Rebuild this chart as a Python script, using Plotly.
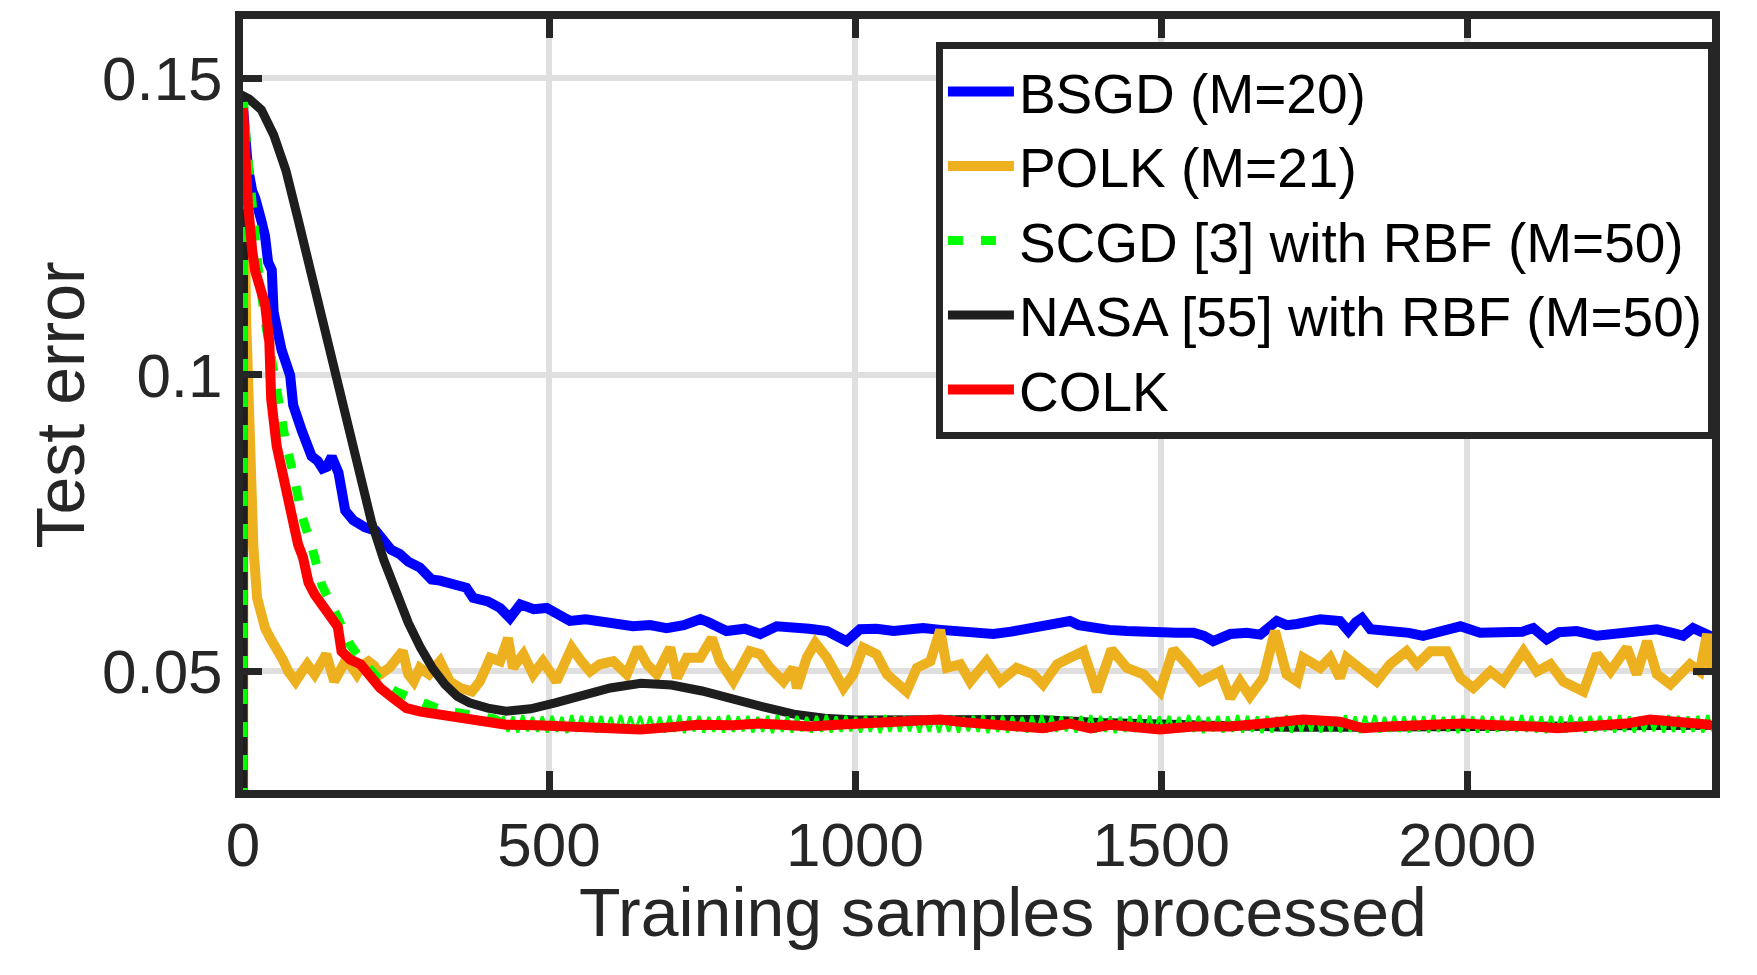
import plotly.graph_objects as go

# ---------------- data ----------------
BSGD_X = [0, 3, 8, 15, 20, 30, 36, 41, 47, 50,
          63, 77, 82, 96, 105, 112, 122, 130, 137, 145,
          156, 167, 180, 199, 217, 242, 256, 270, 289, 308,
          322, 345, 365, 376, 400, 420, 436, 453, 475, 496,
          515, 534, 560, 583, 610, 637, 665, 692, 720, 747,
          760, 790, 820, 845, 872, 899, 925, 954, 986, 1008,
          1035, 1063, 1111, 1140, 1172, 1200, 1226, 1255, 1280, 1313,
          1351, 1365, 1389, 1415, 1444, 1470, 1498, 1525, 1553, 1570,
          1585, 1613, 1640, 1662, 1689, 1705, 1722, 1740, 1760, 1792,
          1806, 1818, 1828, 1842, 1865, 1885, 1905, 1928, 1950, 1967,
          1989, 2021, 2050, 2075, 2090, 2108, 2130, 2150, 2179, 2212,
          2240, 2266, 2290, 2310, 2335, 2353, 2369, 2385, 2397, 2400]
BSGD_Y = [0.145, 0.140, 0.135, 0.131, 0.1298, 0.126, 0.1234, 0.119, 0.1177, 0.1106,
          0.1042, 0.0999, 0.0949, 0.0906, 0.0879, 0.0863, 0.0855, 0.0842, 0.0845, 0.0862,
          0.0835, 0.0771, 0.0755, 0.0743, 0.0737, 0.0705, 0.0698, 0.0685, 0.0675, 0.0655,
          0.0653, 0.0645, 0.0641, 0.0624, 0.0618, 0.0607, 0.0590, 0.0613, 0.0605, 0.0607,
          0.0598, 0.0585, 0.0588, 0.0585, 0.0580, 0.0576, 0.0578, 0.0573, 0.0578, 0.0588,
          0.0583, 0.0568, 0.0572, 0.0563, 0.0576, 0.0576, 0.0572, 0.0568, 0.0551, 0.0571,
          0.0572, 0.0568, 0.0573, 0.0570, 0.0568, 0.0566, 0.0563, 0.0567, 0.0571, 0.0580,
          0.0585, 0.0578, 0.0573, 0.0570, 0.0568, 0.0566, 0.0563, 0.0565, 0.0565, 0.0560,
          0.0551, 0.0563, 0.0565, 0.0562, 0.0585, 0.0578, 0.0580, 0.0584, 0.0588, 0.0585,
          0.0568, 0.0583, 0.0590, 0.0571, 0.0570, 0.0568, 0.0565, 0.0560, 0.0566, 0.0571,
          0.0576, 0.0565, 0.0566, 0.0563, 0.0567, 0.0573, 0.0554, 0.0566, 0.0568, 0.0560,
          0.0562, 0.0565, 0.0568, 0.0571, 0.0565, 0.0560, 0.0573, 0.0568, 0.0560, 0.0558]

POLK_X = [0, 1, 5, 10, 14, 17, 23, 30, 36, 45,
          55, 65, 74, 86, 96, 105, 117, 127, 136, 149,
          158, 167, 176, 186, 195, 205, 214, 224, 240, 261,
          270, 279, 289, 304, 322, 338, 355, 374, 387, 404,
          420, 433, 441, 458, 474, 490, 512, 537, 553, 567,
          583, 605, 627, 645, 660, 676, 698, 709, 725, 747,
          766, 779, 801, 828, 845, 861, 883, 899, 905, 921,
          935, 954, 981, 997, 1013, 1035, 1052, 1084, 1101, 1123,
          1139, 1150, 1172, 1188, 1215, 1237, 1264, 1291, 1307, 1330,
          1351, 1373, 1395, 1419, 1444, 1471, 1498, 1520, 1542, 1564,
          1596, 1613, 1629, 1645, 1667, 1686, 1705, 1722, 1732, 1760,
          1776, 1792, 1803, 1830, 1852, 1874, 1901, 1918, 1940, 1967,
          1989, 2010, 2038, 2059, 2092, 2114, 2136, 2157, 2190, 2212,
          2234, 2261, 2277, 2294, 2310, 2332, 2364, 2380, 2392, 2400]
POLK_Y = [0.0, 0.140, 0.110, 0.090, 0.075, 0.0709, 0.0624, 0.0590, 0.0573, 0.0555,
          0.0540, 0.0520, 0.0500, 0.0483, 0.0499, 0.0512, 0.0495, 0.0510, 0.0529, 0.0483,
          0.0500, 0.0517, 0.0510, 0.0495, 0.0510, 0.0517, 0.0510, 0.0495, 0.0507, 0.0534,
          0.0495, 0.0483, 0.0506, 0.0495, 0.0517, 0.0483, 0.0472, 0.0466, 0.0483, 0.0523,
          0.0517, 0.0556, 0.0506, 0.0529, 0.0495, 0.0517, 0.0483, 0.0540, 0.0517, 0.0500,
          0.0512, 0.0517, 0.0495, 0.0540, 0.0512, 0.0495, 0.0540, 0.0489, 0.0523, 0.0523,
          0.0556, 0.0517, 0.0483, 0.0534, 0.0529, 0.0506, 0.0483, 0.0506, 0.0472, 0.0523,
          0.0548, 0.0523, 0.0472, 0.0495, 0.0540, 0.0529, 0.0495, 0.0466, 0.0506, 0.0517,
          0.0570, 0.0506, 0.0512, 0.0483, 0.0517, 0.0483, 0.0506, 0.0495, 0.0478, 0.0512,
          0.0523, 0.0534, 0.0466, 0.0537, 0.0506, 0.0495, 0.0466, 0.0537, 0.0512, 0.0483,
          0.0500, 0.0455, 0.0483, 0.0458, 0.0489, 0.0568, 0.0495, 0.0483, 0.0523, 0.0506,
          0.0523, 0.0489, 0.0523, 0.0500, 0.0483, 0.0512, 0.0534, 0.0512, 0.0534, 0.0534,
          0.0489, 0.0472, 0.0500, 0.0483, 0.0534, 0.0500, 0.0512, 0.0483, 0.0466, 0.0529,
          0.0500, 0.0540, 0.0495, 0.0551, 0.0495, 0.0478, 0.0512, 0.0500, 0.0563, 0.0495]

# SCGD: smooth decay, then a noisy band (upper/lower edges of the hatch)
SCGD_X_DECAY = [0, 1, 5, 12, 25, 36, 47, 58, 69, 85,
                96, 112, 129, 145, 161, 175, 192, 210, 230, 250,
                274, 295, 317, 340, 368, 395, 410, 425]
SCGD_Y_DECAY = [0.0, 0.146, 0.140, 0.132, 0.1177, 0.1092, 0.102, 0.0963, 0.0891, 0.082,
                0.0763, 0.0712, 0.0645, 0.0612, 0.0573, 0.0545, 0.0521, 0.0500, 0.0478, 0.0466,
                0.0455, 0.0445, 0.0438, 0.0432, 0.0427, 0.0424, 0.0420, 0.0412]
SCGD_BAND_START, SCGD_BAND_STEP = 425, 8
SCGD_Y_BAND = [
    0.0425, 0.0398, 0.0424, 0.0397, 0.0426, 0.0399, 0.0423, 0.0398,
    0.0424, 0.0397, 0.0425, 0.0398, 0.0423, 0.0396, 0.0426, 0.0398,
    0.0425, 0.0399, 0.0424, 0.0397, 0.0425, 0.0398, 0.0423, 0.0397,
    0.0426, 0.0398, 0.0424, 0.0399, 0.0425, 0.0397, 0.0424, 0.0398,
    0.0423, 0.0397, 0.0425, 0.0398, 0.0426, 0.0396, 0.0424, 0.0399,
    0.0425, 0.0397, 0.0423, 0.0398, 0.0424, 0.0397, 0.0426, 0.0398,
    0.0424, 0.0399, 0.0425, 0.0397, 0.0423, 0.0398, 0.0425, 0.0396,
    0.0426, 0.0398, 0.0424, 0.0397, 0.0425, 0.0399, 0.0423, 0.0397,
    0.0425, 0.0398, 0.0426, 0.0397, 0.0424, 0.0398, 0.0425, 0.0399,
    0.0423, 0.0397, 0.0425, 0.0398, 0.0424, 0.0396, 0.0426, 0.0398,
    0.0424, 0.0398, 0.0425, 0.0399, 0.0423, 0.0397, 0.0425, 0.0398,
    0.0426, 0.0397, 0.0424, 0.0398, 0.0425, 0.0397, 0.0423, 0.0399,
    0.0425, 0.0398, 0.0426, 0.0396, 0.0424, 0.0398, 0.0425, 0.0397,
    0.0424, 0.0399, 0.0423, 0.0397, 0.0425, 0.0398, 0.0426, 0.0397,
    0.0425, 0.0398, 0.0424, 0.0399, 0.0423, 0.0397, 0.0425, 0.0398,
    0.0426, 0.0397, 0.0425, 0.0398, 0.0424, 0.0396, 0.0423, 0.0398,
    0.0424, 0.0398, 0.0426, 0.0397, 0.0425, 0.0399, 0.0424, 0.0397,
    0.0425, 0.0397, 0.0423, 0.0398, 0.0426, 0.0398, 0.0425, 0.0396,
    0.0423, 0.0399, 0.0425, 0.0397, 0.0424, 0.0398, 0.0426, 0.0397,
    0.0425, 0.0398, 0.0424, 0.0396, 0.0425, 0.0397, 0.0423, 0.0399,
    0.0426, 0.0397, 0.0425, 0.0398, 0.0424, 0.0399, 0.0425, 0.0397,
    0.0424, 0.0398, 0.0423, 0.0397, 0.0426, 0.0398, 0.0424, 0.0396,
    0.0425, 0.0399, 0.0426, 0.0397, 0.0423, 0.0398, 0.0425, 0.0398,
    0.0424, 0.0397, 0.0425, 0.0399, 0.0424, 0.0397, 0.0426, 0.0398,
    0.0423, 0.0398, 0.0425, 0.0396, 0.0426, 0.0398, 0.0424, 0.0397,
    0.0425, 0.0397, 0.0424, 0.0398, 0.0425, 0.0399, 0.0423, 0.0398,
    0.0426, 0.0398, 0.0425, 0.0397, 0.0424, 0.0396, 0.0425, 0.0399,
    0.0424, 0.0397, 0.0426, 0.0398, 0.0423, 0.0397, 0.0425, 0.0398,
    0.0425, 0.0399, 0.0424, 0.0397, 0.0426, 0.0398, 0.0424, 0.0397,
    0.0423, 0.0398, 0.0425, 0.0399, 0.0424, 0.0397, 0.0426, 0.0398,
    0.0425, 0.0397, 0.0424, 0.0398, 0.0425, 0.0397, 0.0426, 0.0399]

NASA_X = [0, 1, 10, 30, 50, 70, 90, 110, 130, 150,
          170, 190, 210, 230, 250, 270, 290, 310, 330, 350,
          370, 400, 430, 470, 510, 560, 600, 650, 700, 750,
          800, 850, 900, 950, 1000, 1100, 1200, 1300, 1400, 1500,
          1600, 1700, 1800, 1900, 2000, 2100, 2200, 2300, 2400]
NASA_Y = [0.0, 0.147, 0.1465, 0.1447, 0.1405, 0.1345, 0.1262, 0.1175, 0.1085, 0.100,
          0.0915, 0.0825, 0.0752, 0.0688, 0.0632, 0.0582, 0.0540, 0.0505, 0.0478, 0.0458,
          0.0447, 0.0438, 0.0433, 0.0437, 0.0447, 0.0462, 0.0472, 0.0480, 0.0477, 0.0467,
          0.0452, 0.0440, 0.0428, 0.0421, 0.0418, 0.0419, 0.0421, 0.0419, 0.0414, 0.0411,
          0.0408, 0.0406, 0.0406, 0.0407, 0.0408, 0.0408, 0.0408, 0.0408, 0.0409]

COLK_X = [0, 3, 8, 15, 20, 30, 36, 43, 46, 55,
          65, 75, 80, 90, 98, 107, 117, 129, 136, 149,
          155, 161, 175, 192, 210, 224, 245, 267, 290, 317,
          350, 390, 430, 480, 555, 600, 649, 700, 743, 800,
          845, 880, 926, 970, 1008, 1060, 1100, 1139, 1180, 1226,
          1260, 1307, 1351, 1385, 1417, 1460, 1498, 1553, 1613, 1667,
          1700, 1732, 1792, 1830, 1870, 1912, 1950, 1994, 2030, 2075,
          2110, 2147, 2180, 2212, 2260, 2299, 2340, 2397, 2400]
COLK_Y = [0.145, 0.138, 0.129, 0.121, 0.1175, 0.114, 0.112, 0.1056, 0.096, 0.088,
          0.083, 0.0785, 0.0754, 0.0714, 0.0692, 0.065, 0.063, 0.0612, 0.0602, 0.0585,
          0.0575, 0.0534, 0.052, 0.0512, 0.0492, 0.0472, 0.0455, 0.0438, 0.0432, 0.0427,
          0.0421, 0.0414, 0.0410, 0.0409, 0.0407, 0.0405, 0.0402, 0.0406, 0.0410, 0.0409,
          0.0412, 0.0410, 0.0407, 0.0410, 0.0412, 0.0411, 0.0414, 0.0419, 0.0414, 0.0410,
          0.0407, 0.0404, 0.0412, 0.0404, 0.0410, 0.0406, 0.0402, 0.0407, 0.0407, 0.0412,
          0.0415, 0.0419, 0.0415, 0.0404, 0.0407, 0.0410, 0.0411, 0.0412, 0.0410, 0.0410,
          0.0407, 0.0404, 0.0406, 0.0407, 0.0412, 0.0419, 0.0414, 0.0410, 0.0411]

NAMES = ["BSGD (M=20)", "POLK (M=21)", "SCGD [3] with RBF (M=50)",
         "NASA [55] with RBF (M=50)", "COLK"]
X_TICKS = [0, 500, 1000, 1500, 2000]
Y_TICKS = [0.05, 0.1, 0.15]
Y_TICKTEXT = ["0.05", "0.1", "0.15"]
X_TITLE = "Training samples processed"
Y_TITLE = "Test error"

# ---------------- figure ----------------
band_x = [SCGD_BAND_START + SCGD_BAND_STEP * i for i in range(len(SCGD_Y_BAND))]

FONT = "Liberation Sans, Arial, Helvetica, sans-serif"
AX = "#262626"
LW = 10
GREEN = "#00ff00"

fig = go.Figure()
fig.add_trace(go.Scatter(x=BSGD_X, y=BSGD_Y, mode="lines", name=NAMES[0], legendrank=1,
                         line=dict(color="#0000ff", width=LW)))
fig.add_trace(go.Scatter(x=POLK_X, y=POLK_Y, mode="lines", name=NAMES[1], legendrank=2,
                         line=dict(color="#EDB120", width=LW)))
fig.add_trace(go.Scatter(x=NASA_X, y=NASA_Y, mode="lines", name=NAMES[3], legendrank=4,
                         line=dict(color="#1e1e1e", width=9)))
fig.add_trace(go.Scatter(x=SCGD_X_DECAY, y=SCGD_Y_DECAY, mode="lines", name=NAMES[2],
                         legendrank=3, legendgroup="scgd",
                         line=dict(color=GREEN, width=9, dash="15px,18px")))
fig.add_trace(go.Scatter(x=band_x, y=SCGD_Y_BAND, mode="lines", name=NAMES[2],
                         legendgroup="scgd", showlegend=False,
                         line=dict(color=GREEN, width=3)))
fig.add_trace(go.Scatter(x=COLK_X, y=COLK_Y, mode="lines", name=NAMES[4], legendrank=5,
                         line=dict(color="#ff0000", width=LW)))

axis_common = dict(
    showline=True, linewidth=8, linecolor=AX, mirror="ticks",
    ticks="inside", ticklen=19, tickwidth=7, tickcolor=AX,
    showgrid=True, gridcolor="#dfdfdf", gridwidth=6, zeroline=False,
    tickfont=dict(family=FONT, size=62, color=AX),
)
fig.update_xaxes(range=[0, 2400], tickvals=X_TICKS, ticklabelstandoff=-6, **axis_common)
fig.update_yaxes(range=[0.03, 0.16], tickvals=Y_TICKS, ticktext=Y_TICKTEXT, **axis_common)

fig.update_layout(
    width=1757, height=975,
    margin=dict(l=243, r=45, t=19, b=185),
    plot_bgcolor="white", paper_bgcolor="white",
    font=dict(family=FONT, color=AX),
    legend=dict(x=1.002, xanchor="right", y=0.970, yanchor="top",
                bgcolor="white", bordercolor=AX, borderwidth=7,
                font=dict(family=FONT, size=55, color="black"),
                itemwidth=66, tracegroupgap=0),
    annotations=[
        dict(text=X_TITLE, xref="paper", yref="paper", x=0.5174, y=-0.1576,
             xanchor="center", yanchor="middle", showarrow=False,
             font=dict(family=FONT, size=68, color=AX)),
        dict(text=Y_TITLE, xref="paper", yref="paper", x=-0.1246, y=0.5,
             xanchor="center", yanchor="middle", textangle=-90, showarrow=False,
             font=dict(family=FONT, size=68, color=AX)),
    ],
)

fig.write_html("out.html")
